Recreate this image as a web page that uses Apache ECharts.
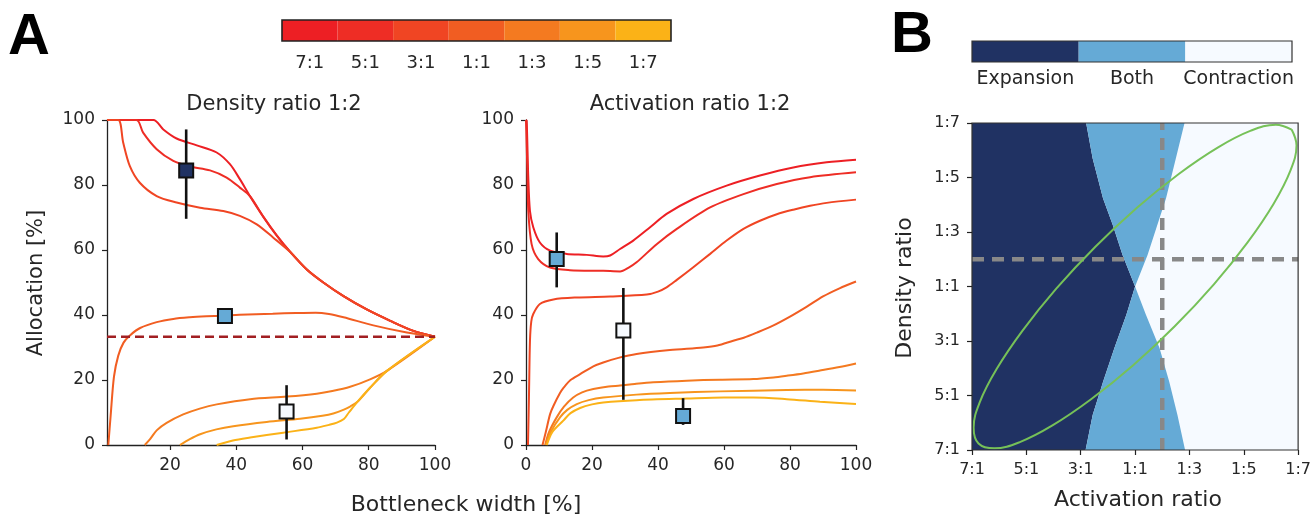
<!DOCTYPE html>
<html>
<head>
<meta charset="utf-8">
<title>allocation</title>
<script src="https://cdn.jsdelivr.net/npm/echarts@6/dist/echarts.min.js"></script>
<style>
  html, body { margin: 0; background: #fff; }
  #main { width: 1314px; height: 516px; }
</style>
</head>
<body>
<div id="main"></div>
<script>
// ratio labels used by colour bar and panel B axes
var ratioTicks = ['7:1', '5:1', '3:1', '1:1', '1:3', '1:5', '1:7'];
var regionNames = ['Expansion', 'Both', 'Contraction'];

// A, left: density ratio 1:2  [bottleneck width %, allocation %]
var dens71 = [[1,100],[15,100],[18,97.1],[22,94.3],[28.1,92.2],[34.1,90],[38.1,86.4],[41.1,81.8],[44.2,76.5],[48.2,70.2],[52.2,64.5],[56.3,59.4],[61.3,54],[66.3,50],[72.4,45.8],[79.4,41.7],[86.5,38.2],[93.5,35.1],[100,33.3]];
var dens51 = [[1,100],[9.9,100],[11.9,96.1],[16,91],[21,87.4],[26,85.7],[32.1,84.5],[37.1,82.3],[41.1,79.2],[44.2,76.5],[48.2,70.2],[52.2,64.5],[56.3,59.4],[61.3,54],[66.3,50],[72.4,45.8],[79.4,41.7],[86.5,38.2],[93.5,35.1],[100,33.3]];
var dens31 = [[1,100],[4.4,100],[5.9,93],[7.9,85.8],[10.9,80.7],[16,76.6],[22,74.6],[29.1,73],[36.1,72],[41.1,70.5],[46.2,67.9],[51.2,63.8],[56.3,59.4],[61.3,54],[66.3,50],[72.4,45.8],[79.4,41.7],[86.5,38.2],[93.5,35.1],[100,33.3]];
var dens11 = [[1.4,0],[2.1,9],[3.1,21],[4.4,27.5],[6,31.5],[8,33.8],[11,36],[16,37.8],[21,38.8],[26,39.3],[31,39.6],[36,39.8],[41,40.1],[51,40.4],[58,40.6],[64,40.7],[68,40.3],[72.4,39.3],[81.4,36.8],[91.5,34.6],[100,33.3]];
var dens13 = [[12.4,0],[14,1.8],[16,4.5],[19,6.8],[24,9.4],[29,11.2],[34.1,12.5],[44.2,14.1],[55.3,14.9],[64.3,15.8],[69,16.6],[74.4,17.9],[80.4,20.2],[85.5,22.8],[100,33.3]];
var dens15 = [[23,0],[26,1.8],[29.1,3.3],[34,4.8],[39.1,5.8],[49.2,7.1],[59.3,8.1],[66,9],[69.3,9.7],[72.5,10.9],[74.5,11.9],[76.5,13.2],[80.4,17.6],[85.5,22.8],[100,33.3]];
var dens17 = [[34.1,0],[39,1.4],[44.2,2.3],[54.2,3.8],[64.3,5.3],[68,6.2],[70.4,6.9],[72.5,8],[74,10],[76.5,13.2],[80.4,17.6],[85.5,22.8],[100,33.3]];
var densBaseline = 33.33;
// [x, y, region index]
var densMarkers = [[24.9, 84.5, 0], [36.6, 39.7, 1], [55.2, 10.3, 2]];
// [x, low, high]
var densErrors = [[24.9, 69.6, 97.1], [55.2, 1.7, 18.4]];

// A, middle: activation ratio 1:2
var act71 = [[0,100],[0.2,99.8],[0.7,82],[1.2,72],[2.2,67],[4.2,62.3],[7.3,59.8],[12.3,58.8],[18.4,58.5],[23.4,58],[25.5,58.3],[28.5,60.3],[32.5,62.9],[37.6,67],[42.6,71.1],[50.7,75.7],[60.8,79.8],[70.9,82.9],[81,85.4],[91.1,87],[100,87.8]];
var act51 = [[0,100],[0.4,85],[0.7,72],[1.7,61.8],[3.7,57.2],[7.3,54.6],[13.3,53.8],[23.4,53.6],[28.5,53.4],[31,54.5],[33.5,56.2],[39.6,61.8],[45.7,66.5],[55.8,73.1],[65.9,77.2],[76,80.3],[86.1,82.4],[100,83.9]];
var act31 = [[0.6,0],[0.9,15],[1.2,32],[1.6,38],[2.2,40.3],[4.2,43.4],[8.3,44.8],[15.4,45.4],[25.5,45.7],[36.6,46.3],[40,47.2],[42.6,48.5],[45.7,50.8],[50.7,54.7],[55.8,58.8],[60.8,62.9],[65.9,66.5],[70.9,69],[76,71],[81,72.4],[86.1,73.6],[91.1,74.5],[100,75.5]];
var act11 = [[5,0],[6,4],[7.3,9.5],[8.3,12],[10.3,16],[11.3,17.5],[13.5,20],[16.4,21.8],[20.4,24.2],[23.4,25.4],[28,26.8],[33.5,28],[43.6,29.2],[53.7,30],[58,30.6],[62.8,32.1],[66,33],[70,34.6],[75,36.8],[80,39.5],[85,42.5],[90,45.7],[95,48.2],[100,50.3]];
var act13 = [[5.8,0],[7,4],[9.3,8.5],[11.5,11.8],[14.3,14.6],[17,16.2],[20.4,17.2],[25,18],[28.5,18.3],[33,18.8],[38.6,19.3],[48.7,19.8],[58.8,20.1],[68.9,20.3],[75,20.8],[79,21.3],[84,22],[89.1,22.9],[95,24],[100,25.1]];
var act15 = [[6.1,0],[7.5,4],[10.3,8.5],[12.5,10.8],[15.4,12.6],[19,13.8],[23.4,14.6],[33.5,15.5],[43.6,16],[58.8,16.5],[79,16.9],[90,17],[100,16.8]];
var act17 = [[6.3,0],[8,4],[11.3,7.5],[13.5,9.8],[16.4,11.4],[20,12.5],[23.4,13.1],[33.5,13.8],[48.7,14.3],[60,14.6],[68.9,14.6],[79,14.1],[89.1,13.3],[100,12.6]];
var actMarkers = [[9.3, 57.2, 1], [29.5, 35.2, 2], [47.6, 8.9, 1]];
var actErrors = [[9.3, 48.5, 65.4], [29.5, 13.9, 48.3], [47.6, 6.2, 14.4]];

// B: region borders in tick units (0 = 7:1 ... 6 = 1:7), bottom to top
var bothLeftEdge = [[2.09,0],[2.22,0.64],[2.41,1.25],[2.62,1.87],[2.84,2.48],[3.0,3.0],[2.77,3.58],[2.59,4.13],[2.41,4.62],[2.22,5.35],[2.1,6]];
var bothRightEdge = [[3.92,0],[3.78,0.64],[3.63,1.25],[3.45,1.87],[3.2,2.48],[3.0,3.0],[3.23,3.58],[3.39,4.07],[3.57,4.62],[3.75,5.35],[3.91,6]];
var refRatio = 3.5; // 1:2
var ellipse = [[5.88,5.88],[5.59,5.97],[5.13,5.86],[4.52,5.55],[3.81,5.07],[3.04,4.45],[2.27,3.73],[1.55,2.96],[0.93,2.19],[0.45,1.48],[0.14,0.87],[0.03,0.41],[0.12,0.12],[0.41,0.03],[0.87,0.14],[1.48,0.45],[2.19,0.93],[2.96,1.55],[3.73,2.27],[4.45,3.04],[5.07,3.81],[5.55,4.52],[5.86,5.13],[5.97,5.59],[5.88,5.88]];

var ratioColors = ['#ed1f24', '#ee2d25', '#f04523', '#f15d22', '#f47a20', '#f7951d', '#fbb217'];
var regionColors = ['#203263', '#65aad6', '#f6faff'];
var FONT = 'DejaVu Sans';
var INK = '#262626';

var myChart = echarts.init(document.getElementById('main'));

function axisBase() {
    return {
        axisLine: {lineStyle: {color: '#222', width: 1.3}},
        axisTick: {length: 5, lineStyle: {color: '#222', width: 1.2}},
        axisLabel: {fontFamily: FONT, fontSize: 17, color: INK, margin: 12},
        splitLine: {show: false}
    };
}
function merge(a, b) { return Object.assign(a, b); }

function curve(data, color, gi) {
    return {type: 'line', xAxisIndex: gi, yAxisIndex: gi, data: data, symbol: 'none',
        smooth: 0.3, lineStyle: {color: color, width: 2}, z: 3, silent: true};
}
function errorBars(data, gi) {
    return {
        type: 'custom', xAxisIndex: gi, yAxisIndex: gi, data: data, z: 5, silent: true,
        renderItem: function (params, api) {
            var a = api.coord([api.value(0), api.value(1)]);
            var b = api.coord([api.value(0), api.value(2)]);
            return {type: 'line', shape: {x1: a[0], y1: a[1], x2: b[0], y2: b[1]},
                style: {stroke: '#111', lineWidth: 2.6}};
        }
    };
}
function markers(data, gi) {
    return {
        type: 'scatter', xAxisIndex: gi, yAxisIndex: gi, z: 6, silent: true,
        symbol: 'rect', symbolSize: 14,
        data: data.map(function (m) {
            return {value: [m[0], m[1]], itemStyle: {color: regionColors[m[2]], opacity: 1, borderColor: '#111', borderWidth: 2}};
        })
    };
}
function polygon(pts, color, gi) {
    return {
        type: 'custom', xAxisIndex: gi, yAxisIndex: gi, data: [0], z: 1, silent: true,
        renderItem: function (params, api) {
            return {type: 'polygon', shape: {points: pts.map(function (p) { return api.coord(p); })},
                style: {fill: color}};
        }
    };
}
function label(text, x, y, size, extra) {
    return merge({type: 'text', x: x, y: y, silent: true,
        style: {text: text, font: size + 'px "' + FONT + '"', fill: INK, textAlign: 'center', textVerticalAlign: 'middle'}}, extra || {});
}
function letter(text, x, y) {
    return {type: 'text', x: x, y: y, silent: true,
        style: {text: text, font: 'bold 58px "Liberation Sans"', fill: '#000', textAlign: 'center', textVerticalAlign: 'middle'}};
}

var densCurves = [dens71, dens51, dens31, dens11, dens13, dens15, dens17];
var actCurves = [act71, act51, act31, act11, act13, act15, act17];
var tickX = [20, 40, 60, 80, 100];

var series = [];
densCurves.forEach(function (c, i) { series.push(curve(c, ratioColors[i], 0)); });
series.push({type: 'line', xAxisIndex: 0, yAxisIndex: 0, symbol: 'none', z: 4, silent: true,
    data: [[1, densBaseline], [100, densBaseline]],
    lineStyle: {color: '#a11f22', width: 2.5, type: [9, 5]}});
series.push(errorBars(densErrors, 0));
series.push(markers(densMarkers, 0));

actCurves.forEach(function (c, i) { series.push(curve(c, ratioColors[i], 1)); });
series.push(errorBars(actErrors, 1));
series.push(markers(actMarkers, 1));

// panel B regions
series.push(polygon([[0, 0], [6, 0], [6, 6], [0, 6]], regionColors[2], 2));
series.push(polygon([[0, 0]].concat(bothLeftEdge, [[0, 6]]), regionColors[0], 2));
series.push(polygon(bothLeftEdge.concat(bothRightEdge.slice().reverse()), regionColors[1], 2));
series.push({type: 'line', xAxisIndex: 2, yAxisIndex: 2, symbol: 'none', z: 3, silent: true,
    data: [[0, refRatio], [6, refRatio]], lineStyle: {color: '#888', width: 4.5, type: [12, 8]}});
series.push({type: 'line', xAxisIndex: 2, yAxisIndex: 2, symbol: 'none', z: 3, silent: true,
    data: [[refRatio, 0], [refRatio, 6]], lineStyle: {color: '#888', width: 4.5, type: [12, 8]}});
series.push({type: 'line', xAxisIndex: 2, yAxisIndex: 2, symbol: 'none', z: 4, silent: true,
    smooth: 0.4, data: ellipse, lineStyle: {color: '#76c158', width: 2}});

// colour bars
series.push({type: 'bar', xAxisIndex: 3, yAxisIndex: 3, barWidth: '100%', silent: true,
    data: ratioTicks.map(function (r, i) { return {value: 1, itemStyle: {color: ratioColors[i]}}; })});
series.push({type: 'bar', xAxisIndex: 4, yAxisIndex: 4, barWidth: '100%', silent: true,
    data: regionNames.map(function (r, i) { return {value: 1, itemStyle: {color: regionColors[i]}}; })});

var option = {
    animation: false,
    backgroundColor: '#fff',
    grid: [
        {left: 107, top: 120, width: 328, height: 325},
        {left: 526, top: 120, width: 330, height: 325},
        {left: 972, top: 123, width: 327, height: 327, show: true, borderColor: '#333', borderWidth: 1.2, z: 10},
        {left: 282, top: 20, width: 389, height: 21, show: true, borderColor: '#222', borderWidth: 1.6, z: 10},
        {left: 972, top: 41, width: 320, height: 21, show: true, borderColor: '#333', borderWidth: 1.2, z: 10}
    ],
    xAxis: [
        merge(axisBase(), {type: 'value', gridIndex: 0, min: 1, max: 100,
            axisTick: {length: 5, customValues: tickX, lineStyle: {color: '#222', width: 1.2}},
            axisLabel: {fontFamily: FONT, fontSize: 17, color: INK, margin: 12, customValues: tickX}}),
        merge(axisBase(), {type: 'value', gridIndex: 1, min: 0, max: 100, interval: 20}),
        merge(axisBase(), {type: 'value', gridIndex: 2, min: 0, max: 6, interval: 1, z: 11,
            axisLine: {show: false},
            axisLabel: {fontFamily: FONT, fontSize: 16, color: INK, margin: 12,
                formatter: function (v) { return ratioTicks[v]; }}}),
        {type: 'category', gridIndex: 3, data: ratioTicks, axisLine: {show: false},
            axisTick: {alignWithLabel: true, length: 5, lineStyle: {color: '#222'}},
            axisLabel: {fontFamily: FONT, fontSize: 18, color: INK, margin: 13, interval: 0}},
        {type: 'category', gridIndex: 4, data: regionNames, axisLine: {show: false},
            axisTick: {alignWithLabel: true, length: 5, lineStyle: {color: '#222'}},
            axisLabel: {fontFamily: FONT, fontSize: 19, color: INK, margin: 8, interval: 0}}
    ],
    yAxis: [
        merge(axisBase(), {type: 'value', gridIndex: 0, min: 0, max: 100, interval: 20}),
        merge(axisBase(), {type: 'value', gridIndex: 1, min: 0, max: 100, interval: 20}),
        merge(axisBase(), {type: 'value', gridIndex: 2, min: 0, max: 6, interval: 1, z: 11,
            axisLine: {show: false},
            axisLabel: {fontFamily: FONT, fontSize: 16, color: INK, margin: 12,
                formatter: function (v) { return ratioTicks[v]; }}}),
        {type: 'value', gridIndex: 3, min: 0, max: 1, show: false},
        {type: 'value', gridIndex: 4, min: 0, max: 1, show: false}
    ],
    graphic: [
        letter('A', 29, 38),
        letter('B', 912, 36),
        label('Density ratio 1:2', 274, 105, 21),
        label('Activation ratio 1:2', 690, 105, 21),
        label('Allocation [%]', 37, 283, 21, {rotation: Math.PI / 2}),
        label('Bottleneck width [%]', 466, 505, 22),
        label('Density ratio', 905, 288, 22, {rotation: Math.PI / 2}),
        label('Activation ratio', 1138, 500, 22)
    ],
    series: series
};
myChart.setOption(option);
</script>
</body>
</html>
